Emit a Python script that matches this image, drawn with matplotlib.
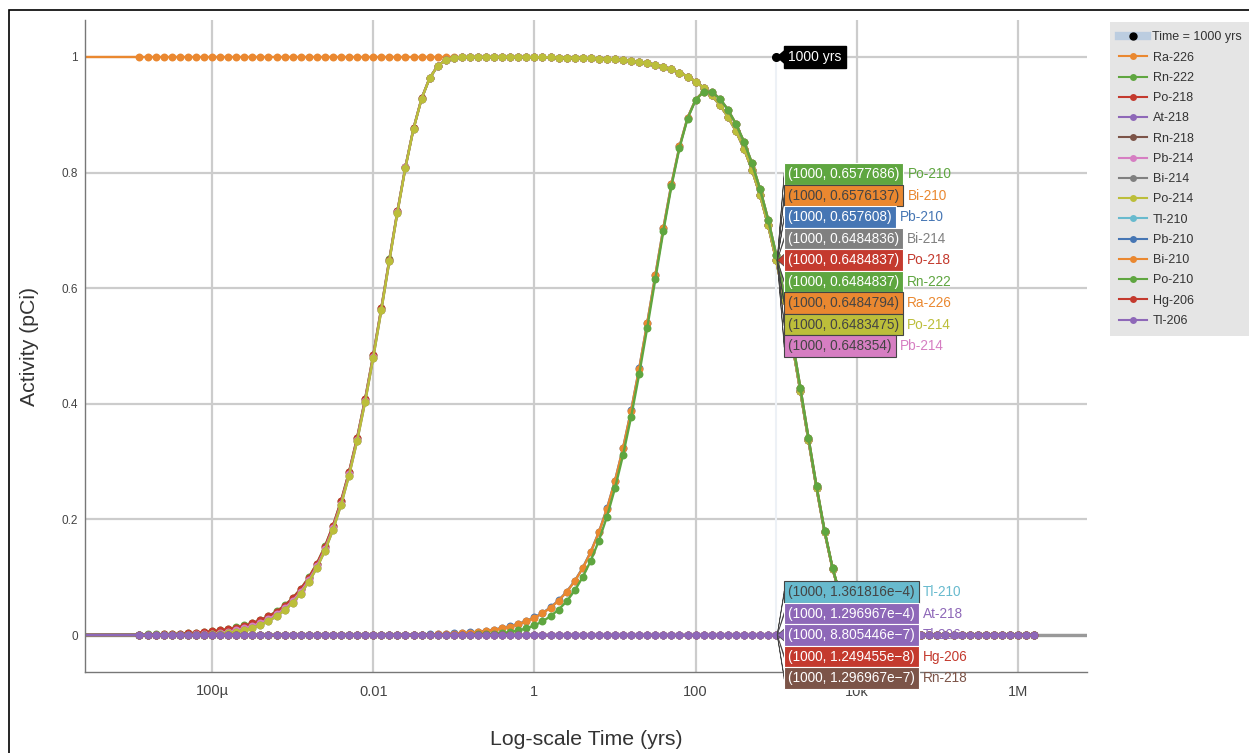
import matplotlib
matplotlib.use("Agg")
import matplotlib.pyplot as plt
import numpy as np
from matplotlib.lines import Line2D
from matplotlib.patches import Polygon, Rectangle
from matplotlib.ticker import NullLocator
from matplotlib.transforms import IdentityTransform

plt.rcParams["font.family"] = ["Liberation Sans", "DejaVu Sans"]

W, H = 1249, 753

# sampling grid: one marker every 0.1 decade, 10^-4.9 .. 10^6.2 yrs
TIME_EXP = np.round(np.arange(-4.9, 6.25, 0.1), 1)
TIME_YRS = 10.0 ** TIME_EXP
T_START = 1e-7  # first sample sits left of the axis, line runs in from the edge

# --- activities (pCi), one value per marker --------------------------------
# common decay tail for 1 yr .. 10^6.2 yr (Ra-226 and its short-lived daughters)
DECAY_TAIL = [
    0.9996, 0.9995, 0.9993, 0.9991, 0.9989, 0.9986, 0.9983, 0.9978, 0.9973, 0.9966,
    0.9957, 0.9946, 0.9932, 0.9914, 0.9892, 0.9864, 0.9829, 0.9785, 0.9730, 0.9662,
    0.9576, 0.9469, 0.9336, 0.9172, 0.8969, 0.8720, 0.8416, 0.8048, 0.7608, 0.7088,
    0.6485, 0.5796, 0.5033, 0.4214, 0.3369, 0.2541, 0.1783, 0.1141, 0.0650, 0.0320,
    0.0131, 0.0043, 0.0010, 0.0002,
] + [0.0] * 19

RA226 = [1.0] * 49 + DECAY_TAIL

RN222_RISE = [
    0.0008, 0.0010, 0.0013, 0.0017, 0.0021, 0.0026, 0.0033, 0.0042, 0.0052, 0.0066,
    0.0083, 0.0104, 0.0131, 0.0165, 0.0207, 0.0260, 0.0326, 0.0409, 0.0512, 0.0641,
    0.0800, 0.0996, 0.1237, 0.1532, 0.1889, 0.2317, 0.2824, 0.3414, 0.4089, 0.4842,
    0.5654, 0.6498, 0.7331, 0.8104, 0.8767, 0.9283, 0.9638, 0.9847, 0.9948, 0.9987,
    0.9998,
] + [1.0] * 8
PO218_RISE = [
    0.0004, 0.0006, 0.0008, 0.0011, 0.0016, 0.0021, 0.0028, 0.0036, 0.0047, 0.0061,
    0.0078, 0.0099, 0.0126, 0.0159, 0.0202, 0.0255, 0.0321, 0.0404, 0.0507, 0.0635,
    0.0795, 0.0991, 0.1232, 0.1527, 0.1884, 0.2313, 0.2820, 0.3410, 0.4086, 0.4839,
    0.5652, 0.6496, 0.7330, 0.8103, 0.8766, 0.9283, 0.9638, 0.9847, 0.9948, 0.9987,
    0.9998,
] + [1.0] * 8
PB214_RISE = [
    0.0000, 0.0001, 0.0001, 0.0001, 0.0002, 0.0004, 0.0007, 0.0011, 0.0017, 0.0026,
    0.0039, 0.0057, 0.0081, 0.0113, 0.0155, 0.0207, 0.0274, 0.0357, 0.0461, 0.0590,
    0.0750, 0.0947, 0.1190, 0.1486, 0.1845, 0.2275, 0.2785, 0.3378, 0.4057, 0.4814,
    0.5631, 0.6479, 0.7317, 0.8094, 0.8760, 0.9279, 0.9636, 0.9846, 0.9948, 0.9987,
    0.9998,
] + [1.0] * 8
BI214_RISE = [
    0.0000, 0.0000, 0.0000, 0.0000, 0.0000, 0.0001, 0.0001, 0.0003, 0.0006, 0.0011,
    0.0019, 0.0032, 0.0053, 0.0082, 0.0120, 0.0172, 0.0239, 0.0323, 0.0427, 0.0557,
    0.0717, 0.0915, 0.1159, 0.1456, 0.1816, 0.2247, 0.2759, 0.3355, 0.4035, 0.4795,
    0.5615, 0.6466, 0.7307, 0.8087, 0.8756, 0.9276, 0.9634, 0.9845, 0.9948, 0.9987,
    0.9998,
] + [1.0] * 8

RN222 = RN222_RISE + DECAY_TAIL
PO218 = PO218_RISE + DECAY_TAIL
PB214 = PB214_RISE + DECAY_TAIL
BI214 = BI214_RISE + DECAY_TAIL
PO214 = BI214_RISE + DECAY_TAIL

# Pb-210 grows in over decades, peaks near 130 yr and then follows Ra-226
PB210 = [0.0] * 29 + [
    0.0001, 0.0001, 0.0002, 0.0003, 0.0004, 0.0006, 0.0008, 0.0011, 0.0015, 0.0020,
    0.0027, 0.0035, 0.0045, 0.0058, 0.0074, 0.0094, 0.0120, 0.0152, 0.0192, 0.0243,
    0.0303, 0.0381, 0.0478, 0.0599, 0.0750, 0.0935, 0.1164, 0.1443, 0.1782, 0.2189,
    0.2672, 0.3237, 0.3886, 0.4611, 0.5400, 0.6223, 0.7040, 0.7802, 0.8452, 0.8948,
    0.9264, 0.9403, 0.9396, 0.9281, 0.9091, 0.8842, 0.8535, 0.8161, 0.7715, 0.7188,
    0.6576, 0.5878, 0.5104, 0.4273, 0.3416, 0.2577, 0.1808, 0.1157, 0.0659, 0.0325,
    0.0133, 0.0043, 0.0011, 0.0002,
] + [0.0] * 19
BI210 = [0.0] * 29 + [
    0.0000, 0.0000, 0.0001, 0.0001, 0.0002, 0.0003, 0.0004, 0.0006, 0.0009, 0.0014,
    0.0020, 0.0028, 0.0039, 0.0051, 0.0068, 0.0088, 0.0113, 0.0146, 0.0186, 0.0237,
    0.0297, 0.0375, 0.0472, 0.0593, 0.0744, 0.0929, 0.1158, 0.1437, 0.1776, 0.2184,
    0.2667, 0.3233, 0.3882, 0.4608, 0.5398, 0.6221, 0.7039, 0.7801, 0.8452, 0.8948,
    0.9264, 0.9403, 0.9396, 0.9281, 0.9091, 0.8842, 0.8535, 0.8161, 0.7715, 0.7188,
    0.6576, 0.5878, 0.5104, 0.4273, 0.3416, 0.2577, 0.1808, 0.1157, 0.0659, 0.0325,
    0.0133, 0.0043, 0.0011, 0.0002,
] + [0.0] * 19
PO210 = [0.0] * 37 + [
    0.0001, 0.0001,
    0.0003, 0.0004, 0.0006, 0.0010, 0.0015, 0.0023, 0.0035, 0.0053, 0.0078, 0.0115,
    0.0166, 0.0235, 0.0325, 0.0440, 0.0582, 0.0771, 0.1004, 0.1288, 0.1633, 0.2047,
    0.2540, 0.3115, 0.3775, 0.4514, 0.5317, 0.6155, 0.6988, 0.7763, 0.8428, 0.8933,
    0.9256, 0.9400, 0.9395, 0.9281, 0.9091, 0.8842, 0.8535, 0.8161, 0.7715, 0.7188,
    0.6578, 0.5878, 0.5104, 0.4273, 0.3416, 0.2577, 0.1808, 0.1157, 0.0659, 0.0325,
    0.0133, 0.0043, 0.0011, 0.0002,
] + [0.0] * 19

# minor branches stay flat at zero on this scale
AT218 = [0.0] * 112
RN218 = [0.0] * 112
TL210 = [0.0] * 112
HG206 = [0.0] * 112
TL206 = [0.0] * 112

NAMES = ["Ra-226", "Rn-222", "Po-218", "At-218", "Rn-218", "Pb-214", "Bi-214",
         "Po-214", "Tl-210", "Pb-210", "Bi-210", "Po-210", "Hg-206", "Tl-206"]
VALUES = [RA226, RN222, PO218, AT218, RN218, PB214, BI214,
          PO214, TL210, PB210, BI210, PO210, HG206, TL206]
START = [1.0] + [0.0] * 13
COLORS = ["#ea8830", "#5fa640", "#c43a2e", "#8e68b8", "#7c5448", "#d67ec2", "#808080",
          "#bcbe3a", "#68bace", "#4676b4", "#ea8830", "#5fa640", "#c43a2e", "#8e68b8"]
COLOR_OF = dict(zip(NAMES, COLORS))

MARK_TIME = 1000
UPPER_HOVER_NAMES = ["Po-210", "Bi-210", "Pb-210", "Bi-214", "Po-218",
                     "Rn-222", "Ra-226", "Po-214", "Pb-214"]
UPPER_HOVER_VALUES = ["0.6577686", "0.6576137", "0.657608", "0.6484836", "0.6484837",
                      "0.6484837", "0.6484794", "0.6483475", "0.648354"]
LOWER_HOVER_NAMES = ["Tl-210", "At-218", "Tl-206", "Hg-206", "Rn-218"]
LOWER_HOVER_VALUES = ["1.361816e\u22124", "1.296967e\u22124", "8.805446e\u22127",
                      "1.249455e\u22128", "1.296967e\u22127"]
DARK_TEXT = {"Bi-210", "Ra-226", "Po-214", "Pb-214", "Tl-210"}

XTICKS = [1e-4, 1e-2, 1, 1e2, 1e4, 1e6]
XTICK_LABELS = ["100\u00b5", "0.01", "1", "100", "10k", "1M"]
YTICKS = [0, 0.2, 0.4, 0.6, 0.8, 1]
YTICK_LABELS = ["0", "0.2", "0.4", "0.6", "0.8", "1"]

# --- figure ---------------------------------------------------------------
fig = plt.figure(figsize=(W / 100, H / 100), dpi=100)
ax = fig.add_axes([85 / W, 1 - 672 / H, (1087 - 85) / W, (672 - 20) / H])

ax.set_xscale("log")
ax.set_xlim(10 ** -5.576, 10 ** 6.856)
ax.set_ylim(-0.064, 1.064)
ax.set_xticks(XTICKS, XTICK_LABELS)
ax.xaxis.set_minor_locator(NullLocator())
ax.set_yticks(YTICKS, YTICK_LABELS)
ax.tick_params(axis="both", length=0, colors="#444444")
ax.tick_params(axis="x", labelsize=10.5, pad=9)
ax.tick_params(axis="y", labelsize=8.5, pad=5)
ax.set_axisbelow(True)
ax.grid(True, color="#cccccc", lw=1.6)
ax.axhline(0, color="#999999", lw=2.4, zorder=1.2)
for side in ("top", "right"):
    ax.spines[side].set_visible(False)
for side in ("left", "bottom"):
    ax.spines[side].set_color("#777777")
    ax.spines[side].set_linewidth(1.0)

ax.set_xlabel("Log-scale Time (yrs)", fontsize=15.3, color="#333333", labelpad=23)
ax.set_ylabel("Activity (pCi)", fontsize=15.3, color="#333333", labelpad=16)

# time marker trace
ax.plot([MARK_TIME, MARK_TIME], [0, 1], color="#edf1f6", lw=1.5, zorder=1.5)

t_all = np.r_[T_START, TIME_YRS]
for name, vals, y0, col in zip(NAMES, VALUES, START, COLORS):
    ax.plot(t_all, np.r_[y0, vals], color=col, lw=1.7, marker="o", ms=5.7,
            mew=0, markevery=slice(1, None), zorder=2)

ax.plot([MARK_TIME], [1], "o", color="black", ms=5.5, zorder=3)

# --- hover labels (display pixel coords, y measured from the top) ----------
ident = IdentityTransform()


def to_disp(px, py):
    return px, H - py


def hover_stack(y_value, names, values, anchor_idx, step=21.5):
    ptx, pty = ax.transData.transform((MARK_TIME, y_value))
    pty = H - pty
    box_left = ptx + 8
    for k, (nm, val) in enumerate(zip(names, values)):
        cy = pty + (k - anchor_idx) * step
        col = COLOR_OF[nm]
        half = 6 if k == anchor_idx else 1.2
        tri = Polygon([to_disp(ptx + 1, pty), to_disp(box_left, cy - half),
                       to_disp(box_left, cy + half)], closed=True,
                      facecolor=col, edgecolor="#444444", lw=0.5,
                      transform=ident, zorder=5)
        fig.add_artist(tri)
        txt_col = "#444444" if nm in DARK_TEXT else "white"
        t = fig.text(*to_disp(box_left + 4, cy), f"({MARK_TIME}, {val})",
                     transform=ident, ha="left", va="center", fontsize=9.8,
                     color=txt_col, zorder=6,
                     bbox=dict(boxstyle="square,pad=0.28", facecolor=col,
                               edgecolor=txt_col if nm in DARK_TEXT else "white",
                               lw=0.8))
        fig.canvas.draw()
        bb = t.get_window_extent()
        fig.text(bb.x1 + 8, bb.y0 + bb.height / 2, nm, transform=ident,
                 ha="left", va="center", fontsize=9.8, color=col, zorder=6)


hover_stack(RA226[79], UPPER_HOVER_NAMES, UPPER_HOVER_VALUES, 4)
hover_stack(TL206[79], LOWER_HOVER_NAMES, LOWER_HOVER_VALUES, 2)

# "1000 yrs" label on the time marker
mx, my = ax.transData.transform((MARK_TIME, 1))
fig.add_artist(Polygon([(mx + 1, my), (mx + 8, my + 6), (mx + 8, my - 6)],
                       closed=True, facecolor="black", edgecolor="black",
                       transform=ident, zorder=5))
fig.text(mx + 12, my, f"{MARK_TIME} yrs", transform=ident, ha="left", va="center",
         fontsize=10, color="white", zorder=6,
         bbox=dict(boxstyle="square,pad=0.3", facecolor="black",
                   edgecolor="black"))

# --- legend ---------------------------------------------------------------
handles = [Line2D([], [], color="#bccde0", lw=6, marker="o", ms=5,
                  mfc="black", mec="black")]
handles += [Line2D([], [], color=c, lw=1.5, marker="o", ms=5, mew=0) for c in COLORS]
labels = [f"Time = {MARK_TIME} yrs"] + NAMES
leg = fig.legend(handles, labels, loc="upper left",
                 bbox_to_anchor=(1110 / W, 1 - 22 / H), frameon=True,
                 facecolor="#e5e5e5", edgecolor="none", fancybox=False,
                 framealpha=1, fontsize=9, labelspacing=0.66, handlelength=2.2,
                 handletextpad=0.45, borderpad=0.75, borderaxespad=0)
for txt in leg.get_texts():
    txt.set_color("#333333")

# page border
fig.add_artist(Rectangle((9 / W, -0.1), 1.2, 1.1 - 10 / H, fill=False,
                         edgecolor="black", lw=1.2, transform=fig.transFigure))

fig.savefig("out.png", dpi=100)
